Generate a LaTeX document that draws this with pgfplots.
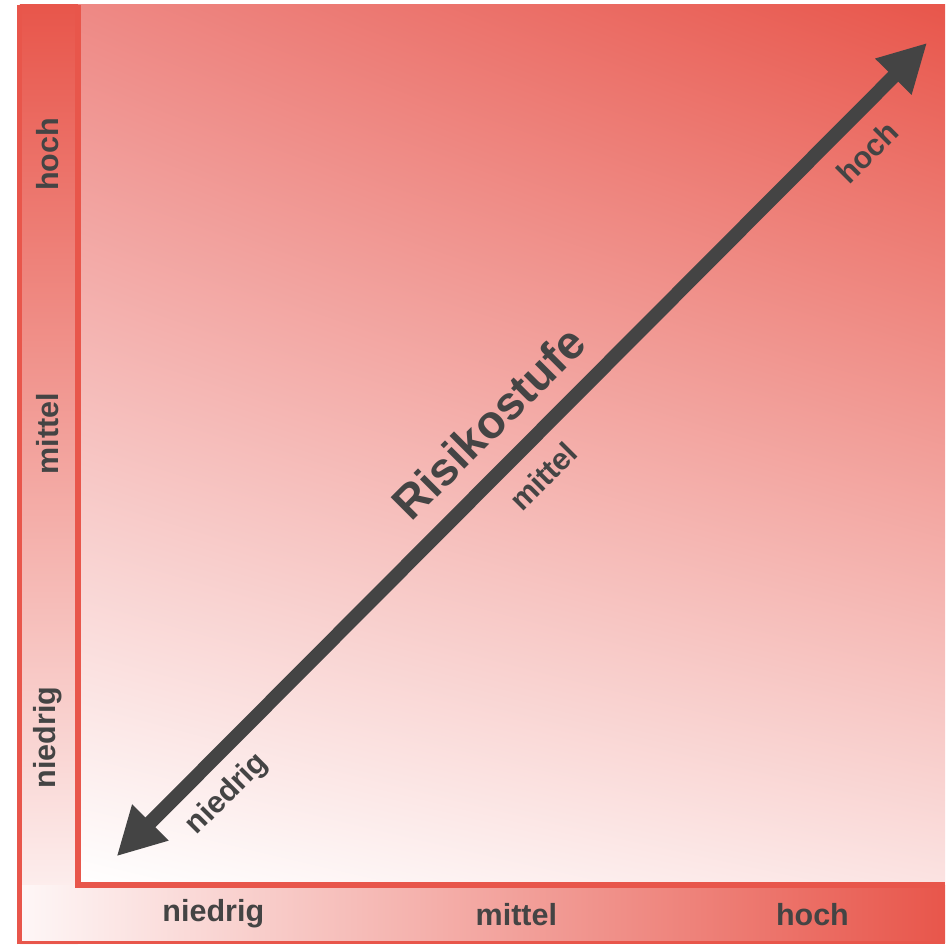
\documentclass[border=0pt]{standalone}
\usepackage{pgfplots}
\pgfplotsset{compat=1.18}
\usetikzlibrary{arrows.meta, shadings}
\usepackage{fontspec}
\setmainfont{Liberation Sans}
\definecolor{rk}{HTML}{E8564B}
\definecolor{rkTL}{HTML}{EE8985}
\definecolor{rkBR}{HTML}{FBE3E2}
\definecolor{rkLo}{HTML}{FEF7F7}
\definecolor{rkMid}{HTML}{F6C9C7}
\definecolor{ink}{HTML}{444444}
\tikzset{lbl/.style={text=ink, font=\bfseries\fontsize{15.3}{18}\selectfont}}

\begin{document}
\begin{tikzpicture}
\begin{axis}[
  scale only axis, width=474pt, height=473.5pt,
  xmin=0, xmax=948, ymin=0, ymax=947,
  hide axis, clip=false,
]
% background and fields (1 unit = 1 px of the reference, y upwards)
\addplot[draw=none, fill=white] coordinates {(0,0)(948,0)(948,947)(0,947)};
\addplot[draw=none, lower left=white, upper right=rk, upper left=rkTL, lower right=rkBR]
  coordinates {(78,59)(948,59)(948,942)(78,942)};
\addplot[draw=none, top color=rk, bottom color=rkLo]
  coordinates {(20,0)(78,0)(78,942)(20,942)};
\addplot[draw=none, left color=rkLo, middle color=rkMid, right color=rk]
  coordinates {(20,2)(948,2)(948,59)(20,59)};

% frame lines
\addplot[rk, line width=2.5pt] coordinates {(20,0)(20,942)};
\addplot[rk, line width=3pt, line join=miter] coordinates {(78,942)(78,59)(948,59)};
\addplot[rk, line width=1.5pt] coordinates {(20,1.5)(948,1.5)};

% risk arrow
\addplot[ink, line width=7pt,
  {Triangle[length=24pt,width=24pt]}-{Triangle[length=24pt,width=24pt]}]
  coordinates {(117,88)(930,904)};

\node[rotate=45, text=ink, font=\bfseries\fontsize{23.3}{28}\selectfont]
  at (axis cs:490,523) {Risikostufe};
\node[lbl, rotate=45] at (axis cs:545,469) {mittel};
\node[lbl, rotate=45] at (axis cs:870,794) {hoch};
\node[lbl, rotate=45] at (axis cs:228,150) {niedrig};

% left strip
\node[lbl, rotate=90] at (axis cs:48,792) {hoch};
\node[lbl, rotate=90] at (axis cs:48,512) {mittel};
\node[lbl, rotate=90] at (axis cs:48,207) {niedrig};

% bottom strip
\node[lbl] at (axis cs:214,30) {niedrig};
\node[lbl] at (axis cs:518,30) {mittel};
\node[lbl] at (axis cs:815,30) {hoch};
\end{axis}
\end{tikzpicture}
\end{document}
